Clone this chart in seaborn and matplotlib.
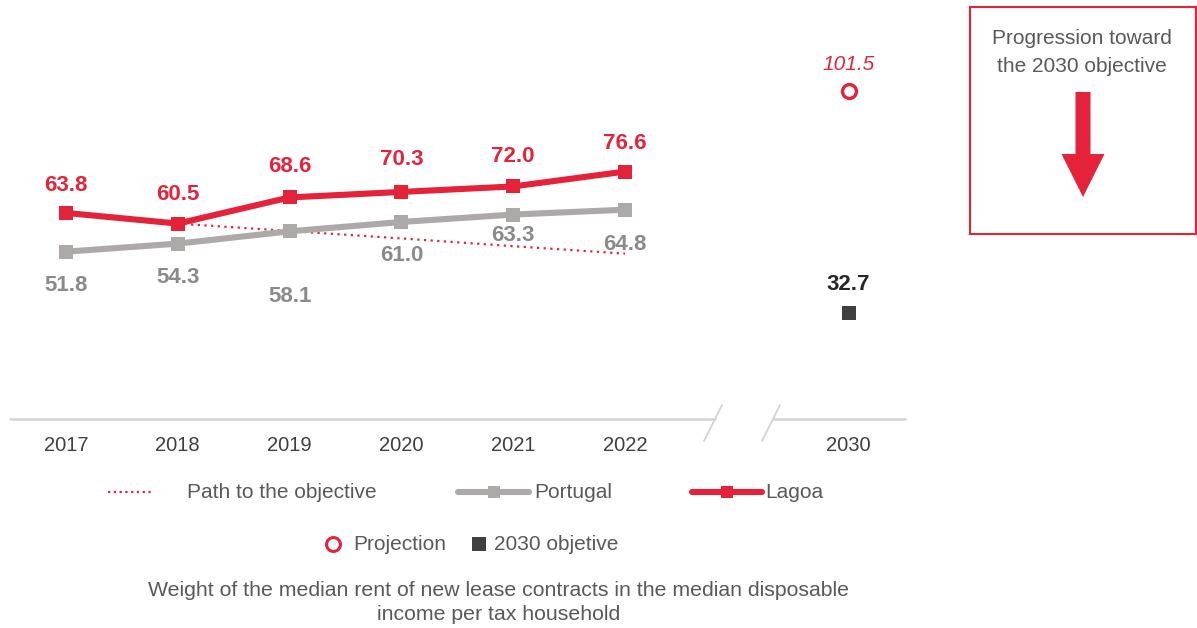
import numpy as np
import pandas as pd
import matplotlib
matplotlib.use("Agg")
import matplotlib.pyplot as plt
from matplotlib.patches import Rectangle, FancyArrow
from matplotlib.lines import Line2D
import seaborn as sns

# ---- data ----
years = ["2017", "2018", "2019", "2020", "2021", "2022"]
target_year = "2030"
lagoa = [63.8, 60.5, 68.6, 70.3, 72.0, 76.6]
portugal = [51.8, 54.3, 58.1, 61.0, 63.3, 64.8]
path_years = ["2018", "2019", "2020", "2021", "2022"]
path_values = [60.5, 58.2, 55.9, 53.5, 51.2]
projection_2030 = 101.5
objective_2030 = 32.7

# ---- style ----
RED = "#E4233B"
GREY_LINE = "#ADA9A8"
GREY_LABEL = "#8A8A8A"
DARK = "#404040"
TEXT = "#595959"

sns.set_theme(style="white")
plt.rcParams["font.family"] = ["Liberation Sans", "DejaVu Sans"]

# category positions; 2030 sits two slots after 2022 (axis break in between)
pos = {y: i for i, y in enumerate(years)}
pos[target_year] = len(years) + 1

df = pd.DataFrame({
    "x": [pos[y] for y in years] * 2,
    "value": lagoa + portugal,
    "series": ["Lagoa"] * len(years) + ["Portugal"] * len(years),
})
path_df = pd.DataFrame({"x": [pos[y] for y in path_years], "value": path_values})

fig = plt.figure(figsize=(11.97, 6.28), dpi=100)
W, H = 1197, 628
x0_px, x_step = 66, 111.8
y0_px, y_scale = 419, 3.23
xmin, xmax = -0.5, 7.5
ymin, ymax = 0, 125
ax = fig.add_axes([(x0_px + xmin * x_step) / W, (H - y0_px) / H,
                   (xmax - xmin) * x_step / W, (ymax - ymin) * y_scale / H])

sns.lineplot(data=path_df, x="x", y="value", ax=ax, color=RED, lw=1.6,
             linestyle=(0, (1, 2)), zorder=2)
sns.lineplot(data=df[df.series == "Portugal"], x="x", y="value", ax=ax,
             color=GREY_LINE, lw=4.4, marker="s", markersize=10,
             markeredgewidth=0, zorder=3)
sns.lineplot(data=df[df.series == "Lagoa"], x="x", y="value", ax=ax,
             color=RED, lw=4.4, marker="s", markersize=10,
             markeredgewidth=0, zorder=4)

ax.plot([pos[target_year]], [projection_2030], marker="o", ls="none",
        markersize=10, markerfacecolor="white", markeredgecolor=RED,
        markeredgewidth=2.4, zorder=5)
ax.plot([pos[target_year]], [objective_2030], marker="s", ls="none",
        markersize=9.5, color=DARK, markeredgewidth=0, zorder=5)

# value labels (offsets in points)
lagoa_dy = [20, 21, 22, 23, 21.5, 20]
portugal_dy = [-24.5, -24.5, -47, -24.5, -15, -25]
for y, v, dy in zip(years, lagoa, lagoa_dy):
    ax.annotate(f"{v:.1f}", (pos[y], v), xytext=(0, dy), textcoords="offset points",
                ha="center", va="center", color=RED, fontsize=16, fontweight="bold")
for y, v, dy in zip(years, portugal, portugal_dy):
    ax.annotate(f"{v:.1f}", (pos[y], v), xytext=(0, dy), textcoords="offset points",
                ha="center", va="center", color=GREY_LABEL, fontsize=16, fontweight="bold")
ax.annotate(f"{projection_2030:.1f}", (pos[target_year], projection_2030), xytext=(0, 19.5),
            textcoords="offset points", ha="center", va="center", color=RED,
            fontsize=15, fontstyle="italic")
ax.annotate(f"{objective_2030:.1f}", (pos[target_year], objective_2030), xytext=(0, 21),
            textcoords="offset points", ha="center", va="center", color="#262626",
            fontsize=16, fontweight="bold")

ax.set_xlim(xmin, xmax)
ax.set_ylim(ymin, ymax)
ax.set_xticks([pos[y] for y in years] + [pos[target_year]])
ax.set_xticklabels(years + [target_year], color=DARK, fontsize=14.5)
ax.tick_params(axis="x", length=0, pad=12.5)
ax.set_yticks([])
ax.set_xlabel("")
ax.set_ylabel("")
for s in ax.spines.values():
    s.set_visible(False)

# broken baseline
AXC = "#D4D4D4"
brk1 = (715 - x0_px) / x_step
brk2 = (773 - x0_px) / x_step
ax.plot([xmin, brk1], [0, 0], color=AXC, lw=1.8, clip_on=False, zorder=1)
ax.plot([brk2, xmax], [0, 0], color=AXC, lw=1.8, clip_on=False, zorder=1)
for b in (brk1, brk2):
    ax.plot([b - 11 / x_step, b + 7 / x_step], [-22 / y_scale, 14 / y_scale],
            color=AXC, lw=1.3, clip_on=False, zorder=1)

# overlay in pixel coordinates for legend, callout box and caption
ov = fig.add_axes([0, 0, 1, 1])
ov.set_xlim(0, W)
ov.set_ylim(H, 0)
ov.axis("off")
ov.patch.set_alpha(0)

# callout box with arrow
ov.add_patch(Rectangle((970, 7), 226, 227, fill=False, edgecolor=RED, lw=1.5))
ov.text(1082, 39, "Progression toward", ha="center", va="center", color=TEXT, fontsize=15)
ov.text(1082, 67, "the 2030 objective", ha="center", va="center", color=TEXT, fontsize=15)
ov.add_patch(FancyArrow(1083, 92, 0, 105, width=15, head_width=43, head_length=43,
                        length_includes_head=True, color=RED, lw=0))

# legend row 1
ly = 492
ov.add_line(Line2D([108, 153], [ly, ly], color=RED, lw=1.6, linestyle=(0, (1, 1.6))))
ov.text(187, ly, "Path to the objective", ha="left", va="center", color=TEXT, fontsize=15)
ov.add_line(Line2D([458, 529], [ly, ly], color=GREY_LINE, lw=4.4, solid_capstyle="round"))
ov.add_line(Line2D([494], [ly], marker="s", markersize=8, color=GREY_LINE, markeredgewidth=0))
ov.text(534, ly, "Portugal", ha="left", va="center", color=TEXT, fontsize=15)
ov.add_line(Line2D([692, 762], [ly, ly], color=RED, lw=4.4, solid_capstyle="round"))
ov.add_line(Line2D([727], [ly], marker="s", markersize=8, color=RED, markeredgewidth=0))
ov.text(765, ly, "Lagoa", ha="left", va="center", color=TEXT, fontsize=15)

# legend row 2
ly2 = 544
ov.add_line(Line2D([333], [ly2], marker="o", markersize=10, markerfacecolor="white",
                   markeredgecolor=RED, markeredgewidth=2.2))
ov.text(353, ly2, "Projection", ha="left", va="center", color=TEXT, fontsize=15)
ov.add_line(Line2D([479], [ly2], marker="s", markersize=10, color=DARK, markeredgewidth=0))
ov.text(494, ly2, "2030 objetive", ha="left", va="center", color=TEXT, fontsize=15)

# caption
ov.text(499, 591, "Weight of the median rent of new lease contracts in the median disposable",
        ha="center", va="center", color=TEXT, fontsize=15.3)
ov.text(499, 614, "income per tax household", ha="center", va="center", color=TEXT, fontsize=15.3)

fig.savefig("out.png", dpi=100)
